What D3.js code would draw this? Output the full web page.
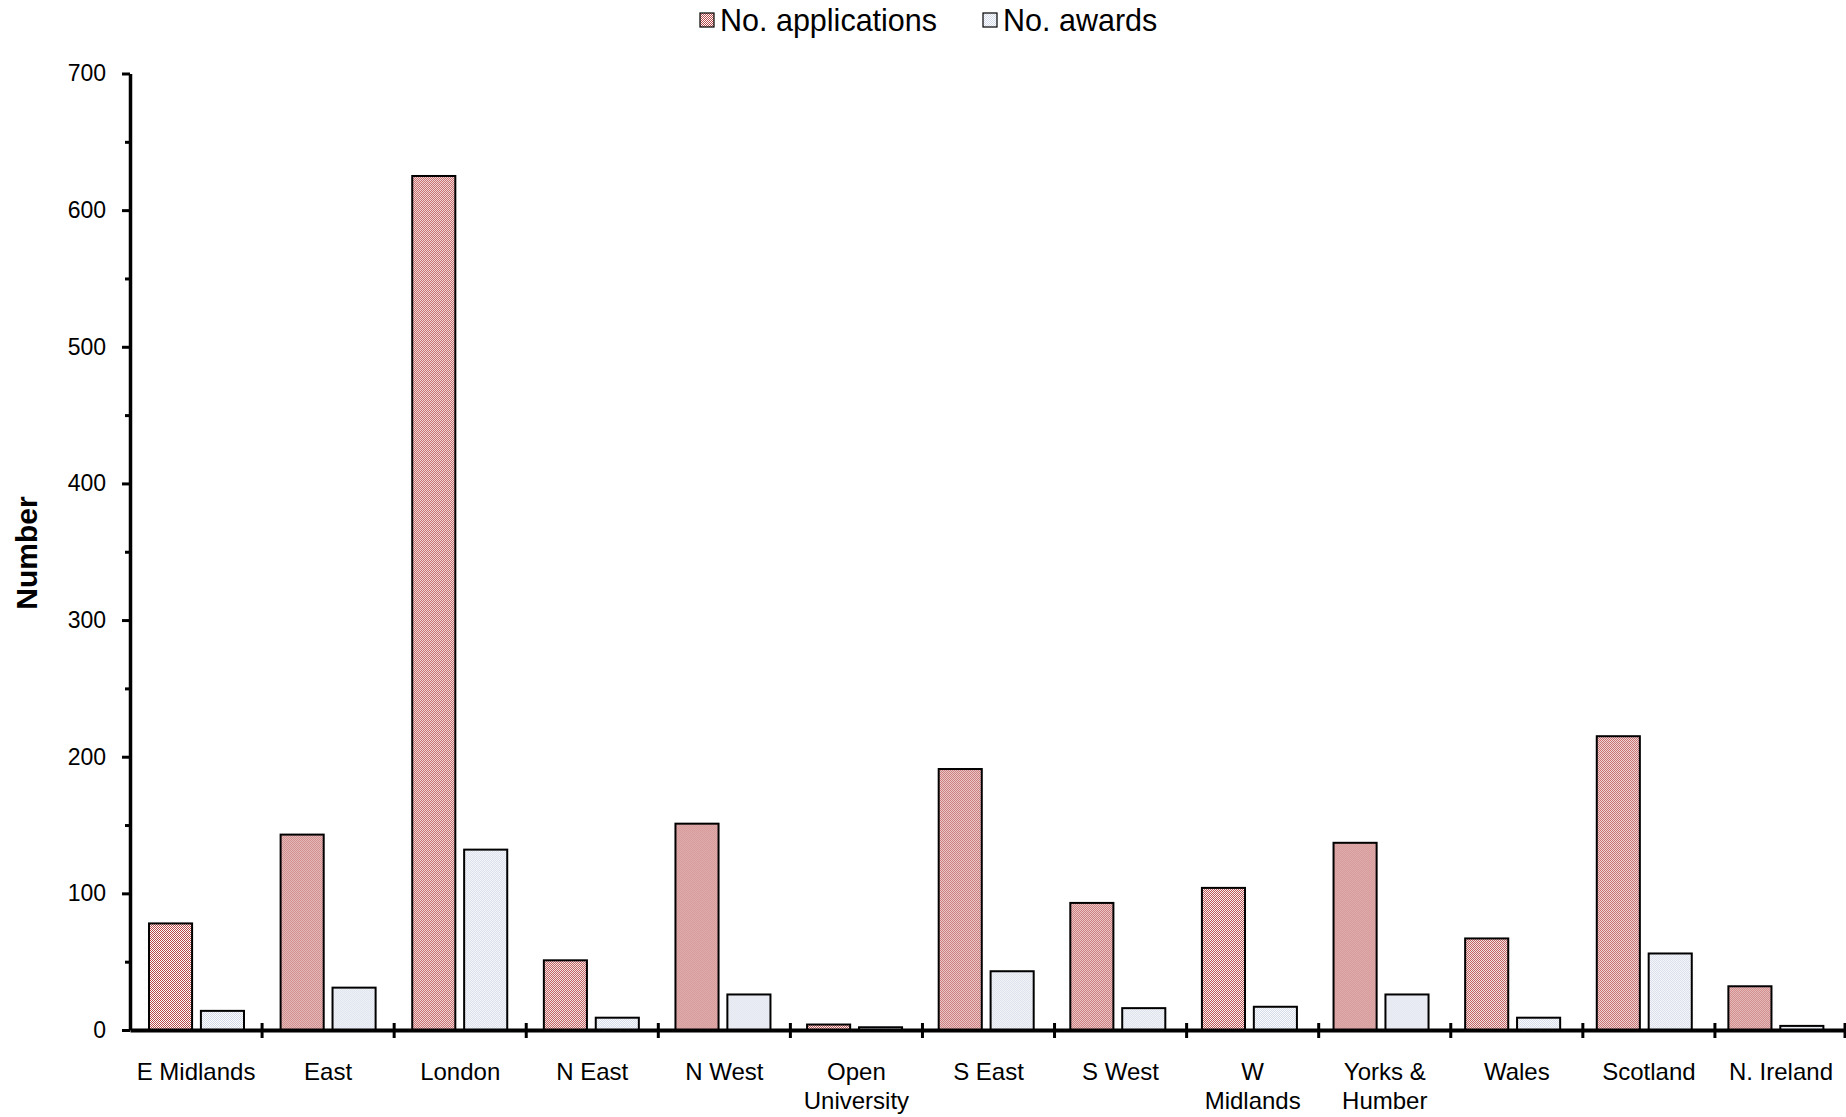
<!DOCTYPE html>
<html>
<head>
<meta charset="utf-8">
<script src="https://cdn.jsdelivr.net/npm/d3@7"></script>
<style>
  body { margin: 0; background: #fff; }
  text { font-family: "Liberation Sans", Arial, sans-serif; }
</style>
</head>
<body>
<script>
// data
const categories = ["E Midlands", "East", "London", "N East", "N West", "Open University",
  "S East", "S West", "W Midlands", "Yorks & Humber", "Wales", "Scotland", "N. Ireland"];
const applications = [78, 143, 625, 51, 151, 4, 191, 93, 104, 137, 67, 215, 32];
const awards = [14, 31, 132, 9, 26, 2, 43, 16, 17, 26, 9, 56, 3];
const seriesNames = ["No. applications", "No. awards"];
const yTicks = [0, 100, 200, 300, 400, 500, 600, 700];
// how the long category names wrap
const labelLines = {
  "Open University": ["Open", "University"],
  "W Midlands": ["W", "Midlands"],
  "Yorks & Humber": ["Yorks &", "Humber"]
};

const width = 1846, height = 1117;
const plot = { left: 130, right: 1847, top: 73.5, bottom: 1030 };

const svg = d3.select("body").append("svg")
  .attr("width", width)
  .attr("height", height);

// checker patterns like the old Excel fills
const defs = svg.append("defs");
const patternColors = { app: "#b84848", awd: "#d0d7e6" };
Object.entries(patternColors).forEach(([id, c]) => {
  const p = defs.append("pattern")
    .attr("id", "pat-" + id)
    .attr("width", 2).attr("height", 2)
    .attr("patternUnits", "userSpaceOnUse");
  p.append("rect").attr("width", 2).attr("height", 2).attr("fill", "#fff");
  p.append("rect").attr("width", 1).attr("height", 1).attr("fill", c);
  p.append("rect").attr("x", 1).attr("y", 1).attr("width", 1).attr("height", 1).attr("fill", c);
});
const fills = ["url(#pat-app)", "url(#pat-awd)"];

const x0 = d3.scaleBand().domain(categories).range([plot.left, plot.right]);
// excel packs the bar clusters a touch tighter than the category ticks
const xBars = d3.scaleBand().domain(categories).range([plot.left, plot.right - 6]);
const x1 = d3.scaleBand().domain(seriesNames).range([19, 114]).paddingInner(0.17);
const y = d3.scaleLinear().domain([0, 700]).range([plot.bottom, plot.top]);

const rows = categories.map((c, i) => ({ cat: c, values: [applications[i], awards[i]] }));

// bars
const groups = svg.append("g").selectAll("g")
  .data(rows)
  .join("g")
  .attr("transform", (d) => `translate(${xBars(d.cat)},0)`);

groups.selectAll("rect")
  .data((d) => d.values.map((v, j) => ({ name: seriesNames[j], v, j })))
  .join("rect")
  .attr("x", (d) => x1(d.name))
  .attr("y", (d) => y(d.v))
  .attr("width", x1.bandwidth())
  .attr("height", (d) => y(0) - y(d.v))
  .attr("fill", (d) => fills[d.j])
  .attr("stroke", "#000")
  .attr("stroke-width", 2);

// y axis: major ticks with labels, minor ticks between
const yAxis = svg.append("g")
  .attr("transform", `translate(${plot.left},0)`)
  .call(d3.axisLeft(y).tickValues(yTicks).tickSize(8).tickPadding(16).tickSizeOuter(0));
svg.append("g")
  .attr("transform", `translate(${plot.left},0)`)
  .call(d3.axisLeft(y).tickValues(yTicks.slice(1).map((t) => t - 50)).tickSize(5).tickFormat("").tickSizeOuter(0))
  .select(".domain").remove();

svg.selectAll("g .tick line").attr("stroke", "#000").attr("stroke-width", 3);
yAxis.select(".domain").attr("stroke", "#000").attr("stroke-width", 3.5);
yAxis.selectAll("text")
  .attr("font-size", 23)
  .attr("fill", "#000");

// x axis
const xAxis = svg.append("g")
  .attr("transform", `translate(0,${plot.bottom})`)
  .call(d3.axisBottom(x0).tickSize(0).tickPadding(0).tickSizeOuter(0));
xAxis.select(".domain").attr("stroke", "#000").attr("stroke-width", 4);
xAxis.selectAll(".tick text").each(function (d) {
  const t = d3.select(this).text(null)
    .attr("font-size", 24)
    .attr("fill", "#000")
    .attr("y", 50)
    .attr("dy", null);
  const lines = labelLines[d] || [d];
  lines.forEach((ln, k) => {
    t.append("tspan").attr("x", 0).attr("dy", k === 0 ? 0 : 29).text(ln);
  });
});
// category boundary ticks crossing the axis
svg.append("g").selectAll("line")
  .data(categories.slice(1).map((c) => x0(c)).concat([plot.right - 2]))
  .join("line")
  .attr("x1", (d) => d).attr("x2", (d) => d)
  .attr("y1", plot.bottom - 7).attr("y2", plot.bottom + 8)
  .attr("stroke", "#000")
  .attr("stroke-width", 3);

// axis title
svg.append("text")
  .attr("transform", `translate(37,553) rotate(-90)`)
  .attr("text-anchor", "middle")
  .attr("font-size", 30)
  .attr("font-weight", "bold")
  .text("Number");

// legend
const legendX = [700, 983];
const legend = svg.append("g").selectAll("g")
  .data(seriesNames)
  .join("g")
  .attr("transform", (d, i) => `translate(${legendX[i]},13)`);
legend.append("rect")
  .attr("width", 14).attr("height", 14)
  .attr("fill", (d, i) => fills[i])
  .attr("stroke", "#000")
  .attr("stroke-width", 1.2);
legend.append("text")
  .attr("x", 20)
  .attr("y", 18)
  .attr("font-size", 30.5)
  .text((d) => d);
</script>
</body>
</html>
